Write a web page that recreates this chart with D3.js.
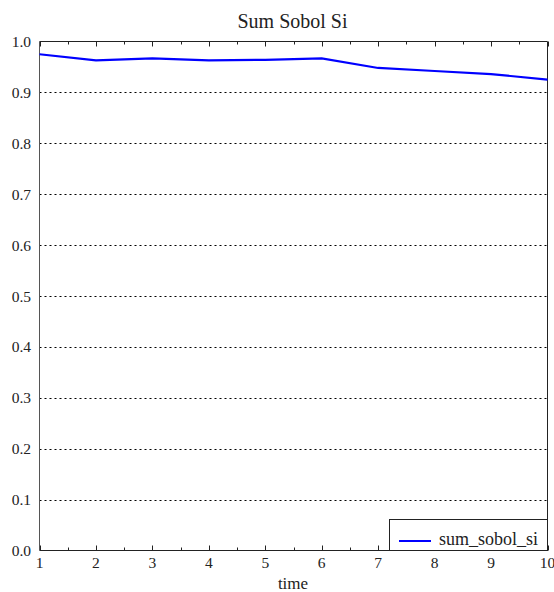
<!DOCTYPE html>
<html><head><meta charset="utf-8">
<script src="https://cdn.jsdelivr.net/npm/d3@7/dist/d3.min.js"></script>
<style>body{margin:0;background:#fff}svg{display:block}</style>
</head><body><svg id="c" width="554" height="592"></svg>
<script>
const times = [1,2,3,4,5,6,7,8,9,10];
const sumSobolSi = [0.975,0.963,0.967,0.963,0.964,0.967,0.948,0.942,0.936,0.925];
const yTicks = [0.0,0.1,0.2,0.3,0.4,0.5,0.6,0.7,0.8,0.9,1.0];
const xTicks = [1,2,3,4,5,6,7,8,9,10];
const seriesName = "sum_sobol_si";

const svg = d3.select("#c");
const L=39.5, R=547.5, T=41.5, B=550.5;
const x = d3.scaleLinear().domain([1,10]).range([L,R]);
const y = d3.scaleLinear().domain([0,1]).range([B,T]);
const FF = "Liberation Serif";
const TC = "#222";

// grid
svg.append("g").selectAll("line").data(yTicks.filter(v=>v>0&&v<1)).join("line")
  .attr("x1",L).attr("x2",R).attr("y1",d=>Math.round(y(d))+0.5).attr("y2",d=>Math.round(y(d))+0.5)
  .attr("stroke","#000").attr("stroke-width",1).attr("stroke-dasharray","2,3");

// frame
const minor = d3.range(1.5,10,1);
const g = svg.append("g");
g.append("line").attr("x1",L).attr("x2",R).attr("y1",T).attr("y2",T).attr("stroke","#222");
g.append("line").attr("x1",L).attr("x2",R).attr("y1",B).attr("y2",B).attr("stroke","#222");
g.append("line").attr("x1",L).attr("x2",L).attr("y1",T).attr("y2",B).attr("stroke","#555");
g.append("line").attr("x1",R).attr("x2",R).attr("y1",T).attr("y2",B).attr("stroke","#222");
g.selectAll(".tt").data(xTicks).join("line").attr("x1",d=>Math.round(x(d))+0.5).attr("x2",d=>Math.round(x(d))+0.5).attr("y1",T).attr("y2",T+5).attr("stroke","#222");
g.selectAll(".tm").data(minor).join("line").attr("x1",d=>Math.round(x(d))+0.5).attr("x2",d=>Math.round(x(d))+0.5).attr("y1",T).attr("y2",T+3).attr("stroke","#222");
g.selectAll(".bt").data(xTicks).join("line").attr("x1",d=>Math.round(x(d))+0.5).attr("x2",d=>Math.round(x(d))+0.5).attr("y1",B).attr("y2",B-5).attr("stroke","#222");
g.selectAll(".bm").data(minor).join("line").attr("x1",d=>Math.round(x(d))+0.5).attr("x2",d=>Math.round(x(d))+0.5).attr("y1",B).attr("y2",B-3).attr("stroke","#222");

// labels
svg.append("g").selectAll("text").data(yTicks).join("text").attr("font-family",FF).attr("fill",TC)
  .attr("x",31).attr("y",d=>y(d)+5.5).attr("text-anchor","end").attr("font-size",15.5).text(d=>d.toFixed(1));
svg.append("g").selectAll("text").data(xTicks).join("text").attr("font-family",FF).attr("fill",TC)
  .attr("x",d=>x(d)).attr("y",568).attr("text-anchor","middle").attr("font-size",15.5).text(d=>d);
svg.append("text").attr("font-family",FF).attr("fill",TC).attr("x",293).attr("y",589).attr("text-anchor","middle").attr("font-size",17).text("time");
svg.append("text").attr("font-family",FF).attr("fill",TC).attr("x",292.5).attr("y",28).attr("text-anchor","middle").attr("font-size",20).text("Sum Sobol Si");

// line
svg.append("path").datum(times.map((t,i)=>[t,sumSobolSi[i]]))
  .attr("d",d3.line().x(d=>x(d[0])).y(d=>y(d[1])))
  .attr("fill","none").attr("stroke","#0000ff").attr("stroke-width",2.2);

// legend
const lg = svg.append("g");
lg.append("rect").attr("x",389.5).attr("y",519.5).attr("width",158).attr("height",31).attr("fill","#fff").attr("stroke","#222");
lg.append("line").attr("x1",399).attr("x2",431).attr("y1",541).attr("y2",541).attr("stroke","#0000ff").attr("stroke-width",2);
lg.append("text").attr("font-family",FF).attr("fill",TC).attr("x",439).attr("y",545).attr("font-size",18).text(seriesName);
</script></body></html>
